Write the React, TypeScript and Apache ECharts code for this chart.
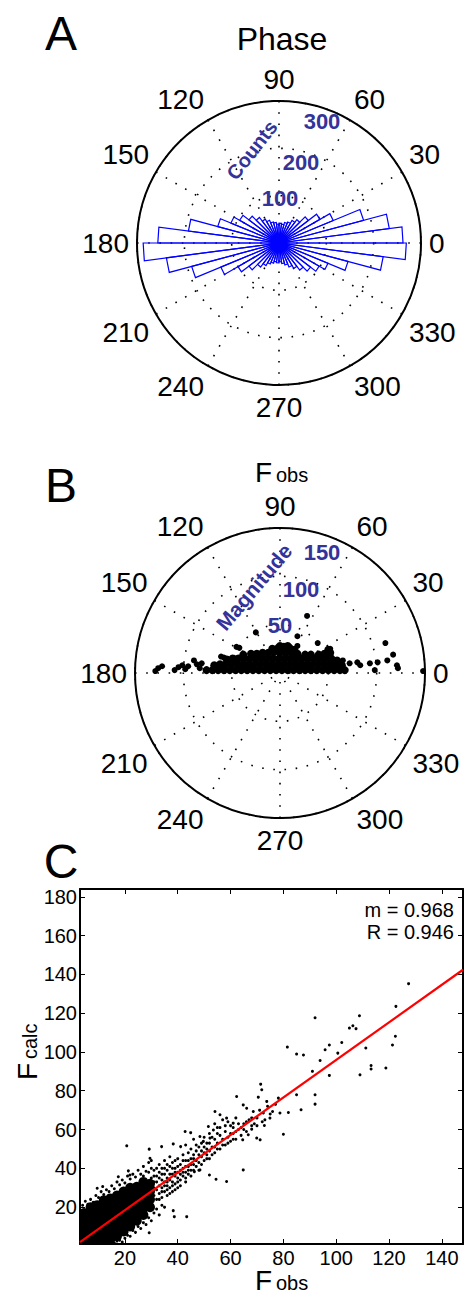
import React, { useEffect, useRef } from "react";
import * as echarts from "echarts";

const FONT = "'Liberation Sans', Arial, sans-serif";
const BLUE_TXT = "#333399";

// ---------- Panel A: rose histogram of phases (48 bins of 7.5 degrees) ----------
const ROSE_BIN_WIDTH = 7.5;
const ROSE_COUNTS = [
  262, 235, 185, 124, 100, 78, 62, 55, 48, 45, 40, 42,
  40, 44, 46, 52, 58, 68, 80, 96, 110, 134, 193, 256,
  287, 240, 191, 133, 100, 80, 64, 55, 48, 44, 40, 42,
  40, 44, 48, 55, 62, 72, 84, 98, 112, 151, 222, 269,
];
const A_RADIUS_MAX = 300;
const A_RADIUS_STEP = 100;
const A_RADIAL_LABELS = ["100", "200", "300"];

// ---------- Panel B: Fobs as complex values (real, imaginary parts) ----------
const B_RADIUS_MAX = 150;
const B_RADIUS_STEP = 50;
const B_RADIAL_LABELS = ["50", "100", "150"];
const FOBS_DENSE_RE_IM: [number, number][] = [
  [-76, 3], [-70, 3], [-64, 3], [-58, 3], [-52, 3], [-46, 3], [-40, 3], [-34, 3], [-28, 3], [-22, 3], [-16, 3], [-10, 3], [-4, 3],
  [2, 3], [8, 3], [14, 3], [20, 3], [26, 3], [32, 3], [38, 3], [44, 3], [50, 3], [56, 3], [62, 3], [67, 3],
  [-68, 8], [-62, 9], [-56, 9], [-50, 9], [-44, 9], [-38, 9], [-32, 9], [-26, 9], [-20, 9], [-14, 9], [-8, 9], [-2, 9],
  [4, 9], [10, 9], [16, 9], [22, 9], [28, 9], [34, 9], [40, 9], [46, 9], [52, 9], [58, 9], [64, 8],
  [-55, 14], [-49, 15], [-43, 15], [-37, 15], [-31, 15], [-25, 15], [-19, 15], [-13, 15], [-7, 15], [-1, 15],
  [5, 15], [11, 15], [17, 15], [23, 15], [29, 15], [35, 15], [41, 15], [47, 15], [53, 15], [59, 13],
  [-38, 19], [-30, 20], [-24, 20], [-18, 21], [-12, 21], [-6, 22], [0, 21], [6, 21], [12, 21], [18, 20],
  [26, 19], [32, 19], [40, 19], [46, 20], [52, 21],
  [-8, 25], [-2, 26], [4, 27], [10, 26], [15, 24], [50, 24], [0, 28], [8, 28],
];
const FOBS_SPARSE_RE_IM: [number, number][] = [
  [-129, 2], [-126, 5], [-122, 7], [-109, 3], [-105, 6], [-101, 8], [-98, 4], [-95, 7], [-89, 13], [-86, 9],
  [-83, 5], [-81, 10], [-61, 17], [-45, 27], [-25, 42], [-58, 16],
  [65, 13], [72, 10], [80, 11], [83, 8], [93, 10], [98, 3], [101, 11], [109, 31], [111, 13], [117, 19],
  [121, 8], [122, 5], [148, 2], [52, 25], [39, 31], [18, 38], [28, 59], [18, 28], [-42, 26],
];

// ---------- Panel C: Fcalc vs Fobs ----------
const C_X_RANGE = [3, 148];
const C_Y_RANGE = [1, 184];
const C_X_TICKS = [20, 40, 60, 80, 100, 120, 140];
const C_Y_TICKS = [20, 40, 60, 80, 100, 120, 140, 160, 180];
const FIT_SLOPE = 0.968;
const FIT_INTERCEPT = -0.9;
const FIT_R = 0.946;
const FOBS_FCALC_DENSE: [number, number][] = [
  [4.5, 3.5], [4.5, 7], [4.5, 10.5], [4.5, 14], [4.5, 17],
  [7, 3.5], [7, 7], [7, 10.5], [7, 14], [7, 17.5], [7, 20],
  [9.5, 3.5], [9.5, 7], [9.5, 10.5], [9.5, 14], [9.5, 17.5], [9.5, 21],
  [12, 3.5], [12, 7], [12, 10.5], [12, 14], [12, 17.5], [12, 21], [12, 23.5],
  [14.5, 3.5], [14.5, 7], [14.5, 10.5], [14.5, 14], [14.5, 17.5], [14.5, 21], [14.5, 24.5],
  [17, 5], [17, 8.5], [17, 12], [17, 15.5], [17, 19], [17, 22.5], [17, 26],
  [19.5, 7.5], [19.5, 11], [19.5, 14.5], [19.5, 18], [19.5, 21.5], [19.5, 25], [19.5, 28],
  [22, 10], [22, 13.5], [22, 17], [22, 20.5], [22, 24], [22, 27.5], [22, 30],
  [24.5, 13], [24.5, 16.5], [24.5, 20], [24.5, 23.5], [24.5, 27], [24.5, 30.5],
  [27, 16], [27, 19.5], [27, 23], [27, 26.5], [27, 30], [27, 33],
  [29.5, 20], [29.5, 24], [29.5, 28], [29.5, 32],
];
const FOBS_FCALC_SPARSE: [number, number][] = [
  [4, 21], [5, 23], [6, 21.5], [7, 24], [8, 22.5], [9, 26], [10, 25], [11, 28], [12, 26.5], [13, 29], [14, 28],
  [15, 31], [16, 29.5], [17, 33], [18, 31.5], [19, 34], [20, 32.5], [21, 36], [22, 34.5], [23, 37], [24, 35.5],
  [25, 39], [26, 37], [27, 41], [28, 38.5], [29, 43], [30, 40],
  [16, 1.5], [17, 2.5], [18, 3], [19, 2], [20, 4], [21, 5.5], [22, 5], [23, 8], [24, 7], [25, 10], [26, 9],
  [27, 12], [28, 11], [29, 14.5], [30, 13], [31, 17], [32, 19], [33, 16], [34, 21], [35, 20],
  [30, 22], [30, 31], [30, 35], [31, 26], [31, 33], [31, 39], [32, 24], [32, 29], [32, 36], [33, 27], [33, 31],
  [33, 38], [33, 42], [34, 25], [34, 30], [34, 34], [34, 40], [35, 28], [35, 33], [35, 37], [35, 44], [36, 26],
  [36, 31], [36, 35], [36, 39], [37, 30], [37, 34], [37, 41], [37, 46], [38, 28], [38, 33], [38, 37], [38, 43],
  [39, 32], [39, 36], [39, 40], [40, 30], [40, 35], [40, 38], [40, 45], [41, 34], [41, 39], [41, 42], [42, 36],
  [42, 40], [42, 47], [43, 33], [43, 38], [43, 44], [43, 52], [44, 37], [44, 41], [44, 48], [45, 39], [45, 45],
  [45, 50], [46, 42], [46, 47], [46, 55], [47, 44], [47, 49], [48, 43], [48, 51], [49, 46], [49, 53], [50, 48],
  [50, 56], [51, 45], [51, 50], [52, 49], [52, 53], [53, 47], [53, 56], [54, 51], [54, 63], [55, 53], [55, 58],
  [56, 50], [56, 61], [57, 55], [57, 65], [58, 52], [58, 59], [59, 56], [59, 64], [60, 54], [60, 62], [61, 58],
  [62, 55], [62, 66], [63, 60], [64, 57], [65, 63], [66, 59], [67, 65], [68, 62], [70, 66], [71, 70], [72, 64],
  [74, 72], [75, 68], [77, 73],
  [26, 30], [27, 36], [28, 33], [28, 26], [29, 38], [29, 30], [30, 27], [30, 44], [31, 30], [31, 36], [32, 33],
  [32, 40], [33, 35], [33, 24], [34, 37], [34, 28], [35, 31], [35, 40], [36, 29], [36, 42], [36, 33], [37, 37],
  [37, 27], [38, 40], [38, 31], [39, 29], [39, 44], [39, 38], [40, 33], [40, 41], [41, 37], [41, 31], [42, 38],
  [42, 44], [43, 41], [43, 35], [44, 44], [44, 39], [45, 42], [45, 36], [46, 45], [46, 39], [47, 41], [47, 52],
  [48, 47], [48, 39], [49, 49], [49, 42], [50, 44], [50, 51], [51, 53], [51, 47], [52, 45], [52, 58], [53, 51],
  [54, 48], [54, 55], [55, 50], [55, 61], [56, 57], [57, 52], [58, 62], [59, 53], [60, 58], [61, 61], [61, 55],
  [62, 59], [63, 63], [64, 61], [65, 60], [66, 64], [68, 66], [69, 63], [70, 62],
  [9.5, 29.7], [11.6, 30.6], [17.5, 35.7], [21.3, 38.7], [21.9, 36.6], [20.7, 51.6], [29.2, 49.9], [29.5, 45.2],
  [33.9, 51.2], [29.2, 6.8], [38.3, 18.2], [43.4, 15.1], [38.7, 15.1], [42.8, 59], [44.9, 58.4], [38.3, 52.6],
  [41.1, 51.2], [52, 36.6], [46.3, 38.3], [48.4, 39.2], [54.5, 34.4], [58.5, 33.2], [64.8, 39.2],
  [53.5, 59.8], [54.1, 69.3], [56, 67.6], [58.5, 65.9], [61, 63.3], [48.4, 56.4], [52.2, 55.6], [51.6, 61.6],
  [49.7, 53.9], [62.3, 77], [64.8, 72.7], [66.1, 71], [68.6, 69.3], [70.5, 76.7], [71.4, 83.4], [71.8, 80.5],
  [73.7, 74.5], [72.4, 68.5], [75.9, 69.3], [78.7, 68.5], [78.1, 76.2], [73, 65], [74.9, 65.9], [72.8, 62.1],
  [69.9, 55.6], [71.2, 54.7], [68, 60.2], [64.6, 54.7], [66.7, 57.3], [80, 57.6], [81.9, 68.8],
  [81.5, 102.5], [85, 98.9], [87.6, 98.4], [95.8, 101.1], [97.4, 103.6], [102.1, 104.9], [100.6, 99.4],
  [93.9, 95.6], [91, 90], [97.4, 87.9], [109, 88.2], [111.2, 102], [113.2, 93], [113.2, 91.2], [118.8, 91.7],
  [121.3, 103.6], [85, 77.9], [86.7, 70.2], [92, 77.9], [92, 73.1], [92, 117.6], [105, 112.3], [106.3, 113.5],
  [107.5, 112], [108.8, 118.7], [122.6, 123.5], [127.4, 135.2], [122.4, 108.1],
];

const toPolar = (pts: [number, number][]) =>
  pts.map(([re, im]) => {
    let a = (Math.atan2(im, re) * 180) / Math.PI;
    if (a < 0) a += 360;
    return [Math.hypot(re, im), a];
  });

const dotted = { color: "#000", width: 1.6, type: [1.6, 9.6] as any };

function angleAxis(idx: number) {
  return {
    polarIndex: idx,
    type: "value",
    min: 0,
    max: 360,
    interval: 30,
    startAngle: 0,
    clockwise: false,
    axisLine: { show: true, lineStyle: { color: "#000", width: 2 } },
    axisTick: { show: false },
    axisLabel: {
      show: true,
      margin: 8,
      fontSize: 28,
      color: "#000",
      fontFamily: FONT,
      formatter: (v: number) => (v === 360 ? "" : String(v)),
    },
    splitLine: { show: true, lineStyle: dotted },
  };
}

function radiusAxis(idx: number, max: number, step: number) {
  return {
    polarIndex: idx,
    type: "value",
    min: 0,
    max,
    interval: step,
    axisLine: { show: false },
    axisTick: { show: false },
    axisLabel: { show: false },
    splitLine: { show: true, lineStyle: dotted },
  };
}

function txt(text: string, x: number, y: number, size: number, extra: any = {}, rotation = 0) {
  return {
    type: "text",
    x,
    y,
    rotation,
    z: 100,
    style: {
      text,
      fontSize: size,
      fontFamily: FONT,
      fill: "#000",
      align: "center",
      verticalAlign: "middle",
      ...extra,
    },
  };
}

const axisBase = {
  type: "value",
  axisLine: { show: true, onZero: false, lineStyle: { color: "#000", width: 2 } },
  splitLine: { show: false },
};

const solidBlack = { color: "#000", opacity: 1, borderWidth: 0 };

export default function App() {
  const ref = useRef<HTMLDivElement>(null);
  useEffect(() => {
    if (!ref.current) return;
    const chart = echarts.init(ref.current, undefined, { renderer: "svg" });
    const roseData = ROSE_COUNTS.map((c, i) => [c, (i + 0.5) * ROSE_BIN_WIDTH]);
    const blue = { fill: BLUE_TXT, fontWeight: "bold" };
    const big = { lineHeight: 34 };
    const option: any = {
      animation: false,
      backgroundColor: "#fff",
      polar: [
        { center: [279, 243], radius: 142 },
        { center: [280, 673], radius: 145 },
      ],
      angleAxis: [angleAxis(0), angleAxis(1)],
      radiusAxis: [
        radiusAxis(0, A_RADIUS_MAX, A_RADIUS_STEP),
        radiusAxis(1, B_RADIUS_MAX, B_RADIUS_STEP),
      ],
      grid: [{ left: 80, top: 889, width: 383, height: 355 }],
      xAxis: [
        {
          ...axisBase,
          min: C_X_RANGE[0],
          max: C_X_RANGE[1],
          position: "bottom",
          axisTick: { show: true, inside: true, length: 5, customValues: C_X_TICKS, lineStyle: { color: "#000" } },
          axisLabel: { customValues: C_X_TICKS, fontSize: 20, color: "#000", margin: 4, fontFamily: FONT },
        },
        {
          ...axisBase,
          min: C_X_RANGE[0],
          max: C_X_RANGE[1],
          position: "top",
          axisTick: { show: true, inside: true, length: 5, customValues: C_X_TICKS, lineStyle: { color: "#000" } },
          axisLabel: { show: false },
        },
      ],
      yAxis: [
        {
          ...axisBase,
          min: C_Y_RANGE[0],
          max: C_Y_RANGE[1],
          position: "left",
          axisTick: { show: true, inside: true, length: 5, customValues: C_Y_TICKS, lineStyle: { color: "#000" } },
          axisLabel: { customValues: C_Y_TICKS, fontSize: 20, color: "#000", margin: 3, fontFamily: FONT },
        },
        {
          ...axisBase,
          min: C_Y_RANGE[0],
          max: C_Y_RANGE[1],
          position: "right",
          axisTick: { show: true, inside: true, length: 5, customValues: C_Y_TICKS, lineStyle: { color: "#000" } },
          axisLabel: { show: false },
        },
      ],
      series: [
        {
          type: "custom",
          coordinateSystem: "polar",
          polarIndex: 0,
          data: roseData,
          renderItem: (_p: any, api: any) => {
            const c = api.value(0);
            const a = api.value(1);
            const o = api.coord([0, a]);
            const p1 = api.coord([c, a - ROSE_BIN_WIDTH / 2]);
            const p2 = api.coord([c, a + ROSE_BIN_WIDTH / 2]);
            return {
              type: "polygon",
              shape: { points: [o, p1, p2] },
              style: { fill: "rgba(0,0,0,0)", stroke: "#0000ff", lineWidth: 1.2 },
            };
          },
        },
        {
          type: "scatter",
          coordinateSystem: "polar",
          polarIndex: 1,
          data: toPolar(FOBS_DENSE_RE_IM),
          symbolSize: 8,
          itemStyle: solidBlack,
        },
        {
          type: "scatter",
          coordinateSystem: "polar",
          polarIndex: 1,
          data: toPolar(FOBS_SPARSE_RE_IM),
          symbolSize: 6,
          itemStyle: solidBlack,
        },
        {
          type: "scatter",
          xAxisIndex: 0,
          yAxisIndex: 0,
          data: FOBS_FCALC_DENSE,
          symbolSize: 10,
          itemStyle: solidBlack,
        },
        {
          type: "scatter",
          xAxisIndex: 0,
          yAxisIndex: 0,
          data: FOBS_FCALC_SPARSE,
          symbolSize: 3,
          itemStyle: solidBlack,
        },
        {
          type: "line",
          xAxisIndex: 0,
          yAxisIndex: 0,
          data: C_X_RANGE.map((x) => [x, FIT_SLOPE * x + FIT_INTERCEPT]),
          symbol: "none",
          lineStyle: { color: "#ff0000", width: 2.2 },
          z: 5,
        },
      ],
      graphic: [
        txt("A", 61, 33, 48, big),
        txt("B", 61, 485, 48, big),
        txt("C", 61, 861, 48, big),
        txt("Phase", 282, 39, 32),
        txt("F", 255, 472, 28, { align: "left" }),
        txt("obs", 276, 475, 20, { align: "left" }),
        txt("F", 255, 1280, 28, { align: "left" }),
        txt("obs", 276, 1283, 20, { align: "left" }),
        txt("F", 27, 1080, 28, { align: "left" }, Math.PI / 2),
        txt("calc", 30, 1059, 20, { align: "left" }, Math.PI / 2),
        txt("m = " + FIT_SLOPE.toFixed(3), 454, 910, 20, { align: "right" }),
        txt("R = " + FIT_R.toFixed(3), 454, 932, 20, { align: "right" }),
        txt(A_RADIAL_LABELS[0], 280, 198, 22, blue),
        txt(A_RADIAL_LABELS[1], 301, 162, 22, blue),
        txt(A_RADIAL_LABELS[2], 322, 121, 22, blue),
        txt("Counts", 252, 150, 20, blue, (52 * Math.PI) / 180),
        txt(B_RADIAL_LABELS[0], 280, 625, 22, blue),
        txt(B_RADIAL_LABELS[1], 301, 589, 22, blue),
        txt(B_RADIAL_LABELS[2], 322, 552, 22, blue),
        txt("Magnitude", 254, 587, 21, blue, (50 * Math.PI) / 180),
      ],
    };
    chart.setOption(option);
    return () => chart.dispose();
  }, []);
  return (
    <div
      ref={ref}
      style={{ position: "absolute", left: 0, top: 0, width: 465, height: 1297, background: "#fff" }}
    />
  );
}
